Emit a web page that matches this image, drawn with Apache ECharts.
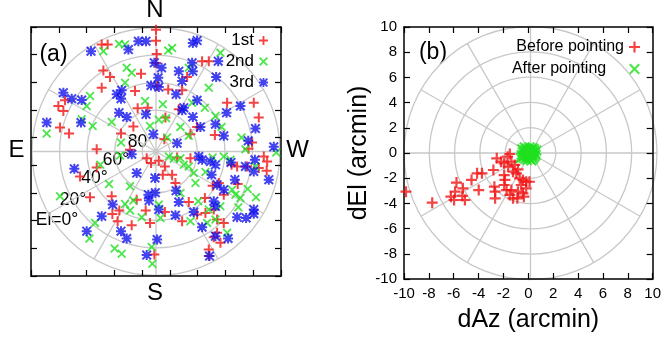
<!DOCTYPE html>
<html>
<head>
<meta charset="utf-8">
<title>Pointing</title>
<script src="https://cdn.jsdelivr.net/npm/echarts@6.0.0/dist/echarts.min.js"></script>
<style>
  html, body { margin: 0; padding: 0; background: #fff; }
  #chart { width: 664px; height: 341px; }
</style>
</head>
<body>
<div id="chart"></div>
<script>
// (a) source positions on the sky, zenith projection in degrees: [west offset, north offset]
const first = [
  [-39.1, 77.3], [-34.8, 77.3], [-37.9, 58.6], [-33.1, 53.8], [-39.1, 46.1], [-65.5, 37.0], [-70.3, 32.9],
  [-66.7, 29.3], [-69.1, 17.3], [-62.6, 13.0], [-15.1, 43.7], [-10.8, 56.2], [-13.2, 31.2], [-16.3, 18.0],
  [-25.2, 13.0], [-6.0, 31.7], [-42.7, 1.7], [-18.7, 1.2], [0, 88], [0, 80], [0.5, 70.5], [0, 64],
  [33.2, 65.3], [38.0, 65.3], [22.4, 53.8], [8.8, 44.9], [18.8, 44.2], [0.8, 47.3], [70.4, 35.3],
  [74.0, 24.5], [16.4, 30.5], [29.6, 17.8], [24.8, 12.5], [42.4, 12.0], [51.2, 35.3], [6.8, 24.5],
  [69.2, 6.5], [66.6, 2.0], [6.0, 8.9],
  [-42.7, -11.5], [-54.7, -18.0], [-6.7, -4.8], [-3.6, -8.4], [-47.5, -33.1], [-31.9, -32.4], [-26.4, -42.7],
  [-31.4, -45.1], [-27.6, -50.4], [-17.5, -53.3], [-13.9, -34.8], [-7.4, -42.7], [-4.3, -51.6], [-1.2, -74.4],
  [2.0, -6.7], [6.4, -10.8], [4.9, -16.8], [11.6, -16.8], [14.0, -22.8], [15.2, -4.3], [24.8, -4.8],
  [35.2, -33.6], [29.6, -45.6], [35.6, -44.4], [23.6, -36.5], [18.8, -50.4], [6.4, -43.7], [44.0, -49.2],
  [48.8, -51.6], [38.0, -70.8], [46.4, -66.0], [58.4, -10.8], [65.6, -10.8], [74.0, -12.0], [77.6, -3.6],
  [80.0, -7.2], [54.4, -9.6], [48.8, -31.2], [45.2, -22.8], [41.6, -42.0], [41.6, -61.9], [38.0, -75.6],
  [44.0, -58.8], [40.8, -24.7], [58.8, -23.5], [79.7, -13.9]
];
const second = [
  [-26.6, 77.8], [-22.3, 77.3], [-37.9, 72.5], [-21.1, 60.5], [-17.5, 56.9], [-22.3, 49.7], [-47.5, 40.1],
  [-49.9, 32.9], [-7.9, 36.5], [-53.5, 23.3], [-45.6, 18.5], [-31.9, 21.4], [-78.7, 13.0], [-25.2, 6.5],
  [-4.3, 18.5],
  [8.8, 73.0], [11.6, 74.9], [46.4, 71.3], [23.6, 60.5], [38.0, 46.1], [26.0, 35.3], [35.2, 31.7],
  [4.9, 34.1], [17.6, 17.8], [7.3, 24.0], [23.6, 11.3], [47.2, 17.8], [42.8, 25.7], [61.6, 10.1],
  [64.4, 1.7], [8.0, 10.1], [2.0, 23.0], [86.6, -0.7],
  [-40.1, -9.6], [-33.8, -23.5], [-18.7, -25.2], [-69.1, -32.4], [-22.3, -37.9], [-18.7, -42.7], [-16.3, -35.5],
  [-43.9, -51.6], [-10.3, -47.5], [-47.9, -62.9], [-29.8, -70.1], [-24.7, -73.9], [-3.1, -69.1], [-2.6, -81.1],
  [-25.9, -2.9],
  [9.2, -3.6], [12.8, -5.3], [17.6, -4.8], [20.0, -9.6], [23.6, -10.8], [27.2, -15.6], [28.4, -22.8],
  [30.4, -36.0], [35.6, -14.9], [48.8, -3.6], [54.8, -27.6], [57.2, -31.2], [53.6, -6.0], [17.6, -30.0],
  [3.2, -48.0], [2.0, -38.4], [24.8, -50.4], [42.8, -49.2], [36.8, -51.6], [51.2, -58.8], [46.4, -39.6],
  [60.8, -33.6], [71.6, -10.8], [38.0, -42.0], [66.0, -27.1], [72.0, -33.1], [59.3, -40.3], [40.8, -4.3]
];
const third = [
  [-46.8, 72.5], [-12.7, 79.7], [-7.2, 79.7], [-19.9, 73.7], [-66.7, 42.5], [-60.7, 38.2], [-53.5, 37.2],
  [-24.7, 44.2], [-28.3, 41.3], [-25.2, 38.2], [-26.6, 28.1], [-21.1, 25.0], [-3.6, 47.8], [-7.2, 26.9],
  [-54.0, 20.9], [-78.7, 20.9], [-1.9, 12.5], [-1.2, 64.1], [-17.5, -1.9],
  [26.5, 78.5], [29.6, 80.2], [44.8, 65.3], [26.0, 64.1], [26.5, 58.1], [16.4, 58.1], [4.0, 60.5],
  [1.6, 53.3], [43.3, 53.8], [18.8, 50.9], [14.5, 41.3], [29.6, 37.0], [20.0, 31.7], [18.8, 29.8],
  [26.5, 25.0], [50.8, 28.1], [60.8, 32.9], [42.8, 19.7], [32.0, 17.8], [48.8, 11.3], [66.4, 7.7],
  [84.8, 3.4], [15.2, 6.0], [2.0, 46.6], [71.6, 16.6],
  [-58.8, -12.5], [-13.9, -15.6], [-5.5, -31.2], [-5.0, -35.5], [-31.2, -38.4], [-39.1, -46.8], [-49.9, -57.6],
  [-25.2, -57.6], [-21.1, -62.9], [-6.7, -74.9], [-0.5, -29.8], [-0.7, -19.2],
  [33.2, -6.0], [39.2, -7.2], [42.8, -9.6], [40.0, -16.8], [44.0, -24.0], [48.8, -27.6], [41.6, -36.0],
  [42.8, -39.6], [71.2, -6.0], [70.4, -14.4], [81.2, -20.4], [64.4, -10.8], [56.8, -20.4], [58.4, -47.5],
  [64.9, -48.0], [70.4, -42.0], [70.4, -45.0], [14.5, -28.3], [16.4, -36.5], [27.2, -43.7], [14.0, -46.1],
  [2.0, -42.0], [0.8, -63.6], [33.2, -54.7], [42.8, -61.2], [51.9, -62.9], [38.5, -75.6], [30.8, -3.6],
  [54.0, -7.9]
];
const elLabels = ['El=0°', '20°', '40°', '60°', '80'];

// (b) pointing offsets in arcmin: [dAz, dEl]
const before = [
  [-2.54, -0.42], [-2.2, -0.69], [-1.67, -0.29], [-1.49, -0.08], [-1.36, -0.69], [-1.94, -0.82], [-1.62, -1.08],
  [-1.09, -0.95], [-1.23, -1.48], [-0.96, -1.61], [-0.83, -1.3], [-0.7, -2.01], [-0.43, -2.14], [-0.17, -2.28],
  [0.09, -2.28], [-0.57, -2.54], [-0.17, -2.8], [-0.43, -3.2], [-0.83, -3.07], [-1.36, -2.94], [-1.49, -3.33],
  [-1.23, -3.6], [-0.88, -3.6], [-0.36, -3.47], [-1.94, -1.75], [-1.88, -2.14], [-1.94, -2.54], [-1.75, -2.94],
  [-2.73, -2.67], [-2.81, -1.35], [-2.67, -3.07], [-2.67, -3.6], [-3.99, -2.94], [-4.12, -1.61], [-3.73, -1.61],
  [-4.57, -2.14], [-5.26, -2.8], [-5.78, -2.35], [-5.89, -3.07], [-6.23, -3.47], [-5.97, -3.73], [-5.31, -3.41],
  [-5.1, -3.73], [-7.73, -3.94], [-9.84, -3.07]
];
const after = [
  [0.1, 0.05], [-0.2, 0.2], [0.3, -0.1], [-0.35, -0.2], [0.45, 0.15], [0.05, -0.35], [-0.1, 0.35], [0.25, 0.3],
  [-0.45, 0.05], [0.5, -0.3], [-0.25, -0.45], [0.15, -0.5], [0.35, 0.4], [-0.5, 0.3], [0.0, 0.0], [0.2, 0.1],
  [-0.15, -0.1], [0.4, -0.45], [-0.3, 0.45], [0.55, 0.0], [-0.55, -0.15], [0.1, 0.45], [-0.05, -0.25],
  [0.3, -0.25], [-0.4, -0.35], [0.2, -0.15], [0.45, 0.3], [-0.2, 0.0], [0.0, 0.25], [0.35, 0.05], [-0.1, -0.55],
  [0.6, -0.15], [-0.3, 0.2], [0.15, 0.25], [0.05, -0.1], [0.65, 0.2], [-0.6, -0.4], [0.25, -0.6]
];

const FONT = '"Liberation Sans", Arial, sans-serif';
const RED = '#f21414';
const GREEN = '#1fe01f';
const BLUE = '#1414ee';
const GRID_LINE = {show: true, lineStyle: {color: '#c8c8c8', width: 1.3}};

// gnuplot-like point types, drawn as filled outlines
const PLUS = 'M4,0L6,0L6,4L10,4L10,6L6,6L6,10L4,10L4,6L0,6L0,4L4,4Z';
const CROSS = 'M0,1.4L1.4,0L5,3.6L8.6,0L10,1.4L6.4,5L10,8.6L8.6,10L5,6.4L1.4,10L0,8.6L3.6,5Z';

const chart = echarts.init(document.getElementById('chart'));

function frameAxis(gridIndex, position, min, max, interval, showLabel) {
  return {
    type: 'value', gridIndex, position, min, max, interval,
    axisLine: {show: true, onZero: false, lineStyle: {color: '#000', width: 1.5}},
    axisTick: {show: true, inside: true, length: 6, lineStyle: {color: '#000', width: 1.2}},
    axisLabel: {show: showLabel, color: '#000', fontSize: 15, fontFamily: FONT, margin: 7},
    splitLine: {show: false}
  };
}

function polarAngle(polarIndex) {
  return {
    polarIndex, type: 'value', min: 0, max: 360, interval: 30, startAngle: 90, clockwise: false,
    axisLine: {show: false}, axisTick: {show: false}, axisLabel: {show: false}, splitLine: GRID_LINE
  };
}

function text(str, x, y, size) {
  return {
    type: 'text', x, y, silent: true,
    style: {text: str, fontSize: size, fontFamily: FONT, fill: '#000', align: 'center', verticalAlign: 'middle'}
  };
}

const skyLabelPos = [[57, 220], [73, 200], [94.5, 178], [116, 160], [137.5, 142]];

const option = {
  animation: false,
  polar: [
    {center: [156, 151.5], radius: 124},
    {center: [530.5, 153], radius: 126.5}
  ],
  angleAxis: [polarAngle(0), polarAngle(1)],
  radiusAxis: [
    {polarIndex: 0, type: 'value', min: 0, max: 90, interval: 20, inverse: true,
      axisLine: {show: false}, axisTick: {show: false}, axisLabel: {show: false}, splitLine: GRID_LINE},
    {polarIndex: 1, type: 'value', min: 0, max: 10, interval: 2,
      axisLine: {show: false}, axisTick: {show: false}, axisLabel: {show: false}, splitLine: GRID_LINE}
  ],
  grid: [
    {left: 31, top: 27, width: 250, height: 249},
    {left: 404, top: 27, width: 253, height: 252}
  ],
  xAxis: [
    frameAxis(0, 'bottom', -90, 90, 20, false),
    frameAxis(0, 'top', -90, 90, 20, false),
    Object.assign(frameAxis(1, 'bottom', -10, 10, 2, true), {
      name: 'dAz (arcmin)', nameLocation: 'middle', nameGap: 29,
      nameTextStyle: {fontSize: 25, fontFamily: FONT, color: '#000'}
    }),
    frameAxis(1, 'top', -10, 10, 2, false)
  ],
  yAxis: [
    frameAxis(0, 'left', -90, 90, 20, false),
    frameAxis(0, 'right', -90, 90, 20, false),
    Object.assign(frameAxis(1, 'left', -10, 10, 2, true), {
      name: 'dEl (arcmin)', nameLocation: 'middle', nameGap: 32,
      nameTextStyle: {fontSize: 25, fontFamily: FONT, color: '#000'}
    }),
    frameAxis(1, 'right', -10, 10, 2, false)
  ],
  legend: [
    {
      data: ['1st', '2nd', '3rd'], orient: 'vertical', align: 'right', padding: 0,
      right: 396, top: 32, itemWidth: 9, itemHeight: 9, itemGap: 4, selectedMode: false,
      textStyle: {fontSize: 17, fontFamily: FONT, color: '#000'}
    },
    {
      data: ['Before pointing', 'After pointing'], orient: 'vertical', align: 'right', padding: 0,
      right: 24, top: 39, itemWidth: 11, itemHeight: 11, itemGap: 6, selectedMode: false,
      formatter: n => n === 'After pointing' ? n + '    ' : n,
      textStyle: {fontSize: 16, fontFamily: FONT, color: '#000'}
    }
  ],
  graphic: [
    text('N', 155, 10, 24),
    text('S', 155, 293.5, 24),
    text('E', 16.5, 150, 24),
    text('W', 297.5, 150, 24),
    text('(a)', 53.5, 55, 23),
    text('(b)', 433, 53, 23)
  ].concat(elLabels.map((s, i) => text(s, skyLabelPos[i][0], skyLabelPos[i][1], 17.5))),
  series: [
    {name: '1st', type: 'scatter', xAxisIndex: 0, yAxisIndex: 0, data: first, silent: true,
      symbol: 'path://' + PLUS, symbolSize: 10, itemStyle: {color: RED}},
    {name: '2nd', type: 'scatter', xAxisIndex: 0, yAxisIndex: 0, data: second, silent: true,
      symbol: 'path://' + CROSS, symbolSize: 9, itemStyle: {color: GREEN}},
    {name: '3rd', type: 'scatter', xAxisIndex: 0, yAxisIndex: 0, data: third, silent: true,
      symbol: 'path://' + PLUS + CROSS, symbolSize: 10, itemStyle: {color: BLUE}},
    {name: 'Before pointing', type: 'scatter', xAxisIndex: 2, yAxisIndex: 2, data: before, silent: true,
      symbol: 'path://' + PLUS, symbolSize: 11, itemStyle: {color: RED}},
    {name: 'After pointing', type: 'scatter', xAxisIndex: 2, yAxisIndex: 2, data: after, silent: true,
      symbol: 'path://' + CROSS, symbolSize: 11, itemStyle: {color: GREEN}}
  ]
};

chart.setOption(option);
</script>
</body>
</html>
